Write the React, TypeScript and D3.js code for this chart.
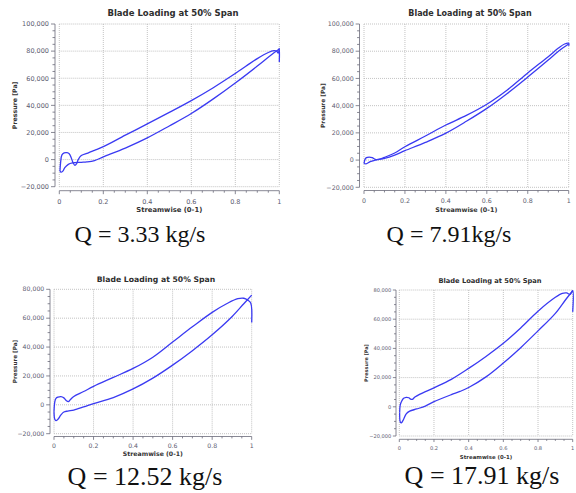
import React from 'react';
import { scaleLinear, line, curveCatmullRom, format, range } from 'd3';

// streamwise position (0-1) vs pressure [Pa]
const q333Upper: [number, number][] = [
  [0.003, -8500], [0.006, -2000], [0.012, 3500], [0.022, 4900], [0.035, 5100], [0.045, 4300],
  [0.055, 1000], [0.063, -2500], [0.071, -4200], [0.078, -3200], [0.086, 0], [0.1, 3000],
  [0.13, 4800], [0.16, 6800], [0.2, 9500], [0.3, 18000], [0.4, 26300], [0.5, 34800],
  [0.6, 43500], [0.7, 53000], [0.8, 63500], [0.9, 74500], [0.95, 79000], [0.975, 80300],
  [0.988, 80000], [0.995, 78500], [1, 82000], [1, 72000],
];
const q333Lower: [number, number][] = [
  [0.003, -8500], [0.008, -9300], [0.016, -8500], [0.025, -6000], [0.041, -3500], [0.06, -2500],
  [0.1, -2000], [0.125, -1700], [0.16, -700], [0.2, 2000], [0.3, 8500], [0.4, 16000],
  [0.5, 24800], [0.6, 34000], [0.7, 44800], [0.8, 56500], [0.9, 69000], [0.96, 76800], [1, 81500],
];

const q791Upper: [number, number][] = [
  [0, -2500], [0.005, 500], [0.012, 1800], [0.025, 2200], [0.04, 1800], [0.055, 600],
  [0.07, 400], [0.1, 2000], [0.15, 5200], [0.2, 9800], [0.3, 17700], [0.4, 25800],
  [0.5, 32800], [0.6, 41000], [0.7, 51500], [0.8, 64000], [0.9, 76000], [0.95, 82300],
  [0.98, 85300], [1, 85800], [1, 84000],
];
const q791Lower: [number, number][] = [
  [0, -2500], [0.01, -2800], [0.03, -1200], [0.06, 200], [0.1, 1300], [0.15, 3700],
  [0.2, 6900], [0.3, 13000], [0.4, 19800], [0.5, 28500], [0.6, 38000], [0.7, 49000],
  [0.8, 61000], [0.9, 73500], [0.95, 80000], [1, 85300],
];

const q1252Upper: [number, number][] = [
  [0, -4800], [0.004, 2000], [0.01, 4500], [0.02, 5300], [0.035, 5700], [0.05, 4800],
  [0.063, 2800], [0.073, 2200], [0.082, 3500], [0.1, 5800], [0.15, 9200], [0.2, 12800],
  [0.3, 19000], [0.4, 25200], [0.5, 33000], [0.6, 43500], [0.7, 54000], [0.8, 64000],
  [0.88, 70500], [0.93, 73500], [0.96, 73800], [0.98, 72500], [0.995, 70500], [1, 57000],
];
const q1252Lower: [number, number][] = [
  [0, -4800], [0.004, -10000], [0.01, -11000], [0.02, -10000], [0.035, -7000], [0.05, -5000],
  [0.07, -4300], [0.1, -3600], [0.15, -1500], [0.2, 800], [0.3, 5000], [0.4, 11000],
  [0.5, 18500], [0.6, 27500], [0.7, 37500], [0.8, 48500], [0.9, 61000], [0.96, 70000], [1, 76000],
];

const q1791Upper: [number, number][] = [
  [0.002, -4000], [0.005, 1000], [0.012, 3500], [0.025, 5800], [0.04, 6500], [0.055, 6200],
  [0.065, 5300], [0.075, 5100], [0.09, 6700], [0.12, 8700], [0.2, 13000], [0.3, 18800],
  [0.4, 26300], [0.5, 34500], [0.6, 43500], [0.7, 54000], [0.8, 65500], [0.9, 75000],
  [0.94, 77700], [0.965, 78000], [0.985, 77000], [1, 79500], [1, 65000],
];
const q1791Lower: [number, number][] = [
  [0.002, -4000], [0.006, -10500], [0.012, -11000], [0.025, -8500], [0.04, -4800], [0.06, -3000],
  [0.1, -1500], [0.15, 500], [0.2, 3500], [0.3, 8300], [0.35, 10500], [0.4, 13200],
  [0.5, 20500], [0.6, 30000], [0.7, 40500], [0.8, 52000], [0.9, 64000], [0.96, 73500], [1, 79500],
];

const xTicks = [0, 0.2, 0.4, 0.6, 0.8, 1];
const yTicksTall = [-20000, 0, 20000, 40000, 60000, 80000, 100000];
const yTicksShort = [-20000, 0, 20000, 40000, 60000, 80000];
const captions = ['Q = 3.33 kg/s', 'Q = 7.91kg/s', 'Q = 12.52 kg/s', 'Q = 17.91 kg/s'];

const TITLE = 'Blade Loading at 50% Span';
const FONT = '"DejaVu Sans", Verdana, sans-serif';
const lineColor = '#3a3af2';
const gridColor = '#b4b4b4';
const axisColor = '#6a6a78';
const tickText = '#5c5c70';

const panels = [
  {
    upper: q333Upper, lower: q333Lower, yTicks: yTicksTall,
    left: 59.3, right: 279.3, top: 24, bottom: 186.7, yAxisX: 55, xAxisY: 190.7,
    titleX: 173, titleY: 15.8, titleSize: 8.5, tickSize: 6.5, labelSize: 6.8,
    yLabelX: 15, tickLabelY: 203.5, xLabelY: 212,
    caption: captions[0], capX: 140, capY: 241.5, capSize: 24,
  },
  {
    upper: q791Upper, lower: q791Lower, yTicks: yTicksTall,
    left: 364, right: 568.7, top: 24, bottom: 187.3, yAxisX: 359.5, xAxisY: 190.5,
    titleX: 470, titleY: 16, titleSize: 8, tickSize: 6.3, labelSize: 6.4,
    yLabelX: 323, tickLabelY: 203.3, xLabelY: 211.8,
    caption: captions[1], capX: 449, capY: 241.5, capSize: 24,
  },
  {
    upper: q1252Upper, lower: q1252Lower, yTicks: yTicksShort,
    left: 54, right: 251.7, top: 289.3, bottom: 433.7, yAxisX: 50, xAxisY: 436.5,
    titleX: 156, titleY: 281.8, titleSize: 7.7, tickSize: 6.2, labelSize: 6.2,
    yLabelX: 15, tickLabelY: 448.3, xLabelY: 456.3,
    caption: captions[2], capX: 145, capY: 484.5, capSize: 26,
  },
  {
    upper: q1791Upper, lower: q1791Lower, yTicks: yTicksShort,
    left: 399.3, right: 572.7, top: 290, bottom: 436, yAxisX: 396, xAxisY: 439.3,
    titleX: 490, titleY: 282.8, titleSize: 6.7, tickSize: 5.1, labelSize: 5.4,
    yLabelX: 366, tickLabelY: 450.3, xLabelY: 458.5,
    caption: captions[3], capX: 482, capY: 483.5, capSize: 26,
  },
];

const fmt = format(',');

const Panel = ({ p }: { p: typeof panels[number] }) => {
  const yMin = p.yTicks[0];
  const yMax = p.yTicks[p.yTicks.length - 1];
  const x = scaleLinear().domain([0, 1]).range([p.left, p.right]);
  const y = scaleLinear().domain([yMin, yMax]).range([p.bottom, p.top]);
  const path = line<[number, number]>()
    .x(d => x(d[0]))
    .y(d => y(d[1]))
    .curve(curveCatmullRom.alpha(0.5));
  const minorX = range(0, 1.0001, 0.05);
  const minorY = range(yMin, yMax + 1, 5000);
  const s = p.tickSize / 6.5;

  return (
    <g>
      <text x={p.titleX} y={p.titleY} textAnchor="middle" fontFamily={FONT}
        fontWeight="bold" fontSize={p.titleSize} fill="#2e2e2e">{TITLE}</text>

      {xTicks.map(t =>
        <line key={`gx-${t}`} x1={x(t)} x2={x(t)} y1={p.top} y2={p.bottom}
          stroke={gridColor} strokeWidth={0.8} strokeDasharray="1,1" />
      )}
      {p.yTicks.map(t =>
        <line key={`gy-${t}`} x1={p.left} x2={p.right} y1={y(t)} y2={y(t)}
          stroke={gridColor} strokeWidth={0.8} strokeDasharray="1,1" />
      )}

      <line x1={p.yAxisX} x2={p.yAxisX} y1={p.top} y2={p.bottom} stroke={axisColor} strokeWidth={0.8} />
      {minorY.map(t => {
        const major = p.yTicks.includes(t);
        return <line key={`ty-${t}`} x1={p.yAxisX - (major ? 4 : 2.5) * s} x2={p.yAxisX}
          y1={y(t)} y2={y(t)} stroke={axisColor} strokeWidth={0.8} />;
      })}
      {p.yTicks.map(t =>
        <text key={`ly-${t}`} x={p.yAxisX - 6 * s} y={y(t)} dy="0.35em" textAnchor="end"
          fontFamily={FONT} fontSize={p.tickSize} fill={tickText}>{fmt(t)}</text>
      )}

      <line x1={p.left} x2={p.right} y1={p.xAxisY} y2={p.xAxisY} stroke={axisColor} strokeWidth={0.8} />
      {minorX.map(t => {
        const major = Math.abs(t * 5 - Math.round(t * 5)) < 1e-6;
        return <line key={`tx-${t}`} x1={x(t)} x2={x(t)} y1={p.xAxisY}
          y2={p.xAxisY + (major ? 3.5 : 2) * s} stroke={axisColor} strokeWidth={0.8} />;
      })}
      {xTicks.map(t =>
        <text key={`lx-${t}`} x={x(t)} y={p.tickLabelY} textAnchor="middle"
          fontFamily={FONT} fontSize={p.tickSize} fill={tickText}>{String(t)}</text>
      )}

      <text x={(p.left + p.right) / 2} y={p.xLabelY} textAnchor="middle" fontFamily={FONT}
        fontWeight="bold" fontSize={p.labelSize} fill="#333">Streamwise (0-1)</text>
      <text transform={`translate(${p.yLabelX}, ${(p.top + p.bottom) / 2}) rotate(-90)`}
        textAnchor="middle" dy="0.35em" fontFamily={FONT} fontWeight="bold"
        fontSize={p.labelSize * 0.92} fill="#333">Pressure [Pa]</text>

      <path d={path(p.lower) ?? ''} fill="none" stroke={lineColor} strokeWidth={1.3} />
      <path d={path(p.upper) ?? ''} fill="none" stroke={lineColor} strokeWidth={1.3} />

      <text x={p.capX} y={p.capY} textAnchor="middle" fontFamily='"Liberation Serif", "Times New Roman", serif'
        fontSize={p.capSize} fill="#111">{p.caption}</text>
    </g>
  );
};

const App = () => (
  <svg width={576} height={493} style={{ position: 'absolute', left: 0, top: 0, background: '#fff' }}>
    <rect width={576} height={493} fill="#fff" />
    {panels.map((p, i) => <Panel key={`panel-${i}`} p={p} />)}
  </svg>
);

export default App;
